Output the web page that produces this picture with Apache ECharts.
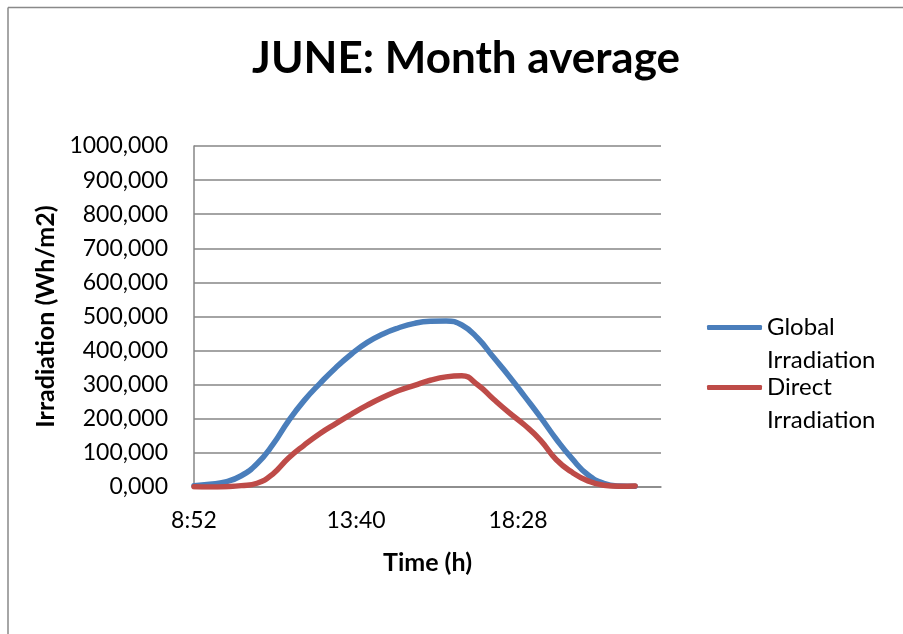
<!DOCTYPE html>
<html>
<head>
<meta charset="utf-8">
<title>JUNE: Month average</title>
<script src="https://cdn.jsdelivr.net/npm/echarts@6/dist/echarts.min.js"></script>
<style>
  html, body { margin: 0; padding: 0; background: #ffffff; }
  #chart { width: 903px; height: 634px; }
</style>
</head>
<body>
<div id="chart"></div>
<script>
// Sampling times (h:mm), one reading every 28 minutes
const times = [
  '8:52', '9:20', '9:48', '10:16', '10:44', '11:12', '11:40', '12:08', '12:36', '13:04',
  '13:32', '14:00', '14:28', '14:56', '15:24', '15:52', '16:20', '16:48', '17:16', '17:44',
  '18:12', '18:40', '19:08', '19:36', '20:04', '20:32', '21:00', '21:28', '21:56'
];

// Global irradiation (Wh/m2)
const globalIrradiation = [
  4, 8, 15, 33, 68, 124, 194, 254, 304, 350,
  390, 424, 449, 467, 480, 486, 487, 475, 437, 381,
  325, 265, 204, 140, 83, 36, 11, 3, 2
];

// Direct irradiation (Wh/m2)
const directIrradiation = [
  1, 0, 1, 4, 11, 38, 85, 123, 157, 186,
  214, 240, 263, 283, 298, 313, 323, 326, 300, 258,
  218, 181, 137, 80, 43, 18, 5, 2, 3
];

// Time labels shown along the axis
const timeTicks = ['8:52', '13:40', '18:28'];

const FONT = 'Lato, "Open Sans", sans-serif';

function toMinutes(t) {
  const [h, m] = t.split(':').map(Number);
  return h * 60 + m;
}
const start = toMinutes(times[0]);
const tickStep = toMinutes(timeTicks[1]) - toMinutes(timeTicks[0]);
const tickOffsets = timeTicks.map(t => toMinutes(t) - start);

function pairs(values) {
  return times.map((t, i) => [toMinutes(t) - start, values[i]]);
}

// Legend label: name split over two lines; a leading blank line keeps
// the first word level with the legend line.
function legendLabel(name) {
  return '\n' + name.replace(' ', '\n');
}

const legendText = { fontFamily: FONT, fontSize: 24, color: '#000000', lineHeight: 33 };

const chart = echarts.init(document.getElementById('chart'), null, { renderer: 'canvas' });

chart.setOption({
  animation: false,
  backgroundColor: '#ffffff',
  textStyle: { fontFamily: FONT },
  title: {
    text: 'JUNE: Month average',
    left: 247,
    top: 32,
    textStyle: { fontFamily: FONT, fontSize: 44, fontWeight: 'bold', color: '#000000' }
  },
  graphic: [
    {
      type: 'line',
      shape: { x1: 8, y1: 7.5, x2: 903, y2: 7.5 },
      style: { stroke: '#898989', lineWidth: 1.5 },
      silent: true
    },
    {
      type: 'line',
      shape: { x1: 8, y1: 7.5, x2: 8, y2: 634 },
      style: { stroke: '#898989', lineWidth: 1.5 },
      silent: true
    }
  ],
  grid: { left: 194, top: 146, right: 242, bottom: 147, containLabel: false },
  xAxis: {
    type: 'value',
    min: 0,
    max: 830,
    interval: tickStep,
    name: 'Time (h)',
    nameLocation: 'middle',
    nameGap: 63,
    nameTextStyle: { fontFamily: FONT, fontSize: 25, fontWeight: 'bold', color: '#000000' },
    axisLine: { show: true, onZero: false, lineStyle: { color: '#868686', width: 1.5 } },
    axisTick: { show: false },
    splitLine: { show: false },
    axisLabel: {
      margin: 22,
      fontFamily: FONT,
      fontSize: 23,
      color: '#000000',
      showMaxLabel: false,
      formatter: v => {
        const i = tickOffsets.indexOf(v);
        return i >= 0 ? timeTicks[i] : '';
      }
    }
  },
  yAxis: {
    type: 'value',
    min: 0,
    max: 1000,
    interval: 100,
    name: 'Irradiation (Wh/m2)',
    nameLocation: 'middle',
    nameRotate: 90,
    nameGap: 136,
    nameTextStyle: { fontFamily: FONT, fontSize: 25, fontWeight: 'bold', color: '#000000' },
    axisLine: { show: true, lineStyle: { color: '#868686', width: 1.5 } },
    axisTick: { show: false },
    splitLine: { show: true, lineStyle: { color: '#868686', width: 1.5 } },
    axisLabel: {
      margin: 26,
      fontFamily: FONT,
      fontSize: 23,
      color: '#000000',
      formatter: v => v.toFixed(3).replace('.', ',')
    }
  },
  legend: [
    {
      data: ['Global Irradiation'],
      left: 702,
      top: 273,
      icon: 'roundRect',
      itemWidth: 55,
      itemHeight: 5,
      formatter: legendLabel,
      textStyle: legendText
    },
    {
      data: ['Direct Irradiation'],
      left: 702,
      top: 333,
      icon: 'roundRect',
      itemWidth: 55,
      itemHeight: 5,
      formatter: legendLabel,
      textStyle: legendText
    }
  ],
  series: [
    {
      name: 'Global Irradiation',
      type: 'line',
      data: pairs(globalIrradiation),
      smooth: 0.5,
      symbol: 'none',
      color: '#4A7EBB',
      lineStyle: { color: '#4A7EBB', width: 5.5, cap: 'round', join: 'round' },
      z: 2
    },
    {
      name: 'Direct Irradiation',
      type: 'line',
      data: pairs(directIrradiation),
      smooth: 0.5,
      symbol: 'none',
      color: '#BE4B48',
      lineStyle: { color: '#BE4B48', width: 5.5, cap: 'round', join: 'round' },
      z: 3
    }
  ]
});
</script>
</body>
</html>
